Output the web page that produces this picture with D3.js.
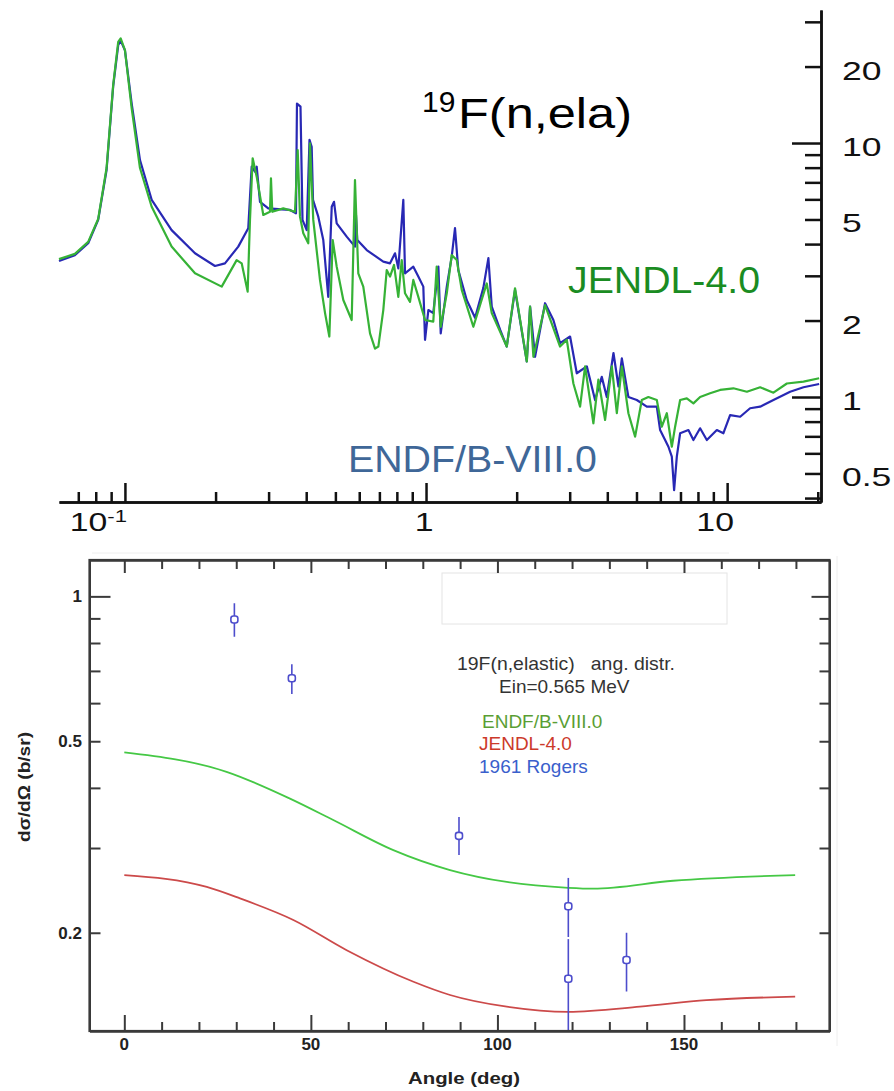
<!DOCTYPE html>
<html>
<head>
<meta charset="utf-8">
<script src="https://cdn.jsdelivr.net/npm/d3@7"></script>
<style>
  body { margin: 0; background: #fff; }
  svg { display: block; font-family: "Liberation Sans", Arial, Helvetica, sans-serif; }
  .pre { white-space: pre; }
</style>
</head>
<body>
<svg id="chart" width="894" height="1091"></svg>
<script>
// ---------- 19F elastic excitation function: [energy (MeV), cross section (b)] ----------
const endfExcitation = [
  [0.0604,3.43],[0.0682,3.62],[0.0755,4.03],[0.0815,4.98],[0.0869,7.83],[0.0914,16.7],[0.0950,24.3],[0.0968,25.3],
  [0.100,23.2],[0.1053,14.3],[0.1122,8.57],[0.1227,5.97],[0.1429,4.54],[0.1709,3.68],[0.1991,3.28],[0.2149,3.36],
  [0.2379,3.91],[0.2568,4.62],[0.2636,8.07],[0.2703,7.71],[0.2739,8.07],[0.2809,5.87],[0.2993,5.53],[0.3317,5.48],
  [0.3534,5.45],[0.3699,5.29],[0.3727,14.3],[0.3829,13.9],[0.3888,4.98],[0.4015,4.54],[0.4102,10.3],[0.4171,9.67],
  [0.4213,5.97],[0.4387,5.13],[0.4558,4.15],[0.4735,2.48],[0.4862,5.61],[0.4948,5.87],[0.505,4.83],[0.5452,4.28],
  [0.5808,3.91],[0.5853,5.21],[0.5912,4.15],[0.6353,3.79],[0.7212,3.41],[0.7593,3.36],[0.7889,3.68],[0.809,3.21],
  [0.8406,5.97],[0.8516,3.07],[0.9074,3.26],[0.9428,2.98],[0.9795,2.72],[0.9924,1.68],[1.018,2.20],[1.057,2.14],
  [1.099,3.26],[1.119,1.78],[1.172,2.72],[1.217,3.57],[1.248,4.62],[1.280,3.16],[1.365,2.41],[1.455,2.05],
  [1.550,2.69],[1.611,3.52],[1.653,2.27],[1.762,1.84],[1.854,1.58],[1.975,2.64],[2.161,1.38],[2.216,2.27],
  [2.302,1.44],[2.485,2.34],[2.648,2.01],[2.787,1.63],[3.009,1.73],[3.167,1.24],[3.420,1.32],[3.643,0.973],
  [3.834,1.20],[3.984,1.00],[4.193,1.49],[4.356,1.10],[4.470,1.42],[4.700,1.00],[5.012,0.973],[5.410,0.916],
  [5.840,0.916],[5.990,0.741],[6.223,0.677],[6.383,0.637],[6.551,0.582],[6.667,0.430],[6.806,0.582],[6.981,0.720],
  [7.437,0.741],[7.727,0.677],[8.133,0.753],[8.562,0.677],[9.243,0.741],[9.720,0.720],[10.23,0.849],[11.05,0.836],
  [11.92,0.903],[12.87,0.916],[14.25,0.973],[16.19,1.049],[17.93,1.092],[20.21,1.125]
];
const jendlExcitation = [
  [0.0604,3.49],[0.0682,3.66],[0.0755,4.08],[0.0815,5.02],[0.0869,7.97],[0.0914,16.9],[0.0950,25.0],[0.0968,25.8],
  [0.100,23.2],[0.1053,13.7],[0.1122,7.97],[0.1227,5.61],[0.1429,3.91],[0.1709,3.07],[0.2096,2.72],[0.2350,3.46],
  [0.2442,3.36],[0.2556,2.60],[0.2602,4.98],[0.2656,8.71],[0.2739,7.37],[0.2881,5.21],[0.3032,5.36],[0.3055,7.26],
  [0.3086,5.36],[0.3357,5.53],[0.3671,5.36],[0.3748,9.38],[0.3814,5.13],[0.3912,4.41],[0.4064,4.03],[0.4117,9.97],
  [0.4222,4.98],[0.4444,2.89],[0.4620,2.14],[0.4774,1.73],[0.4898,4.15],[0.505,3.26],[0.5312,2.41],[0.5664,2.01],
  [0.5808,7.15],[0.5957,3.07],[0.6189,2.72],[0.6516,1.78],[0.6770,1.55],[0.6944,1.58],[0.7212,2.20],[0.7404,3.16],
  [0.7593,2.98],[0.7829,3.31],[0.809,2.48],[0.8303,3.46],[0.8516,2.56],[0.8848,2.37],[0.9074,2.89],[0.9428,2.48],
  [0.9924,2.01],[1.057,1.98],[1.085,3.26],[1.119,1.89],[1.172,2.56],[1.217,3.62],[1.265,3.46],[1.314,2.64],
  [1.436,1.89],[1.591,2.80],[1.653,2.14],[1.854,1.58],[1.975,2.68],[2.161,1.38],[2.216,2.27],[2.273,1.44],
  [2.485,2.30],[2.787,1.58],[2.934,1.68],[3.086,1.13],[3.248,0.916],[3.375,1.32],[3.596,0.788],[3.736,1.17],
  [3.933,0.812],[4.141,1.32],[4.302,0.863],[4.470,1.32],[4.700,0.863],[4.948,0.698],[5.207,0.973],[5.476,1.00],
  [5.840,0.973],[6.068,0.764],[6.305,0.863],[6.551,0.637],[6.718,0.764],[6.981,0.973],[7.346,0.988],[7.727,0.944],
  [8.133,1.00],[8.780,1.034],[9.478,1.066],[10.49,1.082],[11.63,1.049],[12.87,1.092],[14.25,1.040],[15.79,1.13],
  [17.93,1.149],[20.21,1.185]
];
const energyMajorTicks = [0.1, 1, 10];
const energyMinorTicks = [0.07,0.08,0.09,0.2,0.3,0.4,0.5,0.6,0.7,0.8,0.9,2,3,4,5,6,7,8,9,20];
const xsMajorTicks = [1, 10];
const xsMinorTicks = [0.4,0.5,0.6,0.7,0.8,0.9,2,3,4,5,6,7,8,9,20,30];
const xsTickLabels = [20, 10, 5, 2, 1, 0.5];

// ---------- angular distribution at Ein = 0.565 MeV: [angle (deg), dσ/dΩ (b/sr)] ----------
const endfAngular = [
  [0,0.474],[27.4,0.432],[44.4,0.380],[56.0,0.343],[72.1,0.297],[87.3,0.270],[102.5,0.255],
  [119,0.248],[125.7,0.247],[147.1,0.2565],[179.8,0.2636]
];
const jendlAngular = [
  [0,0.2636],[22.1,0.249],[31,0.2357],[45.3,0.2126],[59.6,0.184],[77.5,0.1582],[87.3,0.1485],
  [102.5,0.1404],[119,0.137],[138.2,0.1404],[156,0.1449],[179.8,0.1473]
];
// 1961 Rogers: angle, value, lower and upper end of the error bar
const rogersAngle = [29.5, 44.9, 89.7, 119.0, 119.0, 134.6];
const rogersValue = [0.895, 0.676, 0.318, 0.227, 0.1605, 0.1755];
const rogersLow   = [0.824, 0.627, 0.290, 0.196, 0.105, 0.151];
const rogersHigh  = [0.967, 0.723, 0.348, 0.260, 0.194, 0.200];
const angleMajorTicks = [0, 50, 100, 150];
const angleMinorTicks = [10,20,30,40,60,70,80,90,110,120,130,140,160,170,180];
const angMajorY = [1];
const angMinorY = [0.2,0.3,0.4,0.5,0.6,0.7,0.8,0.9];
const angYLabels = [1, 0.5, 0.2];

const svg = d3.select("#chart");
svg.append("rect").attr("width", 894).attr("height", 1091).attr("fill", "#fff");

function styleAxis(g, color, width) {
  g.select("path.domain").attr("stroke", color).attr("stroke-width", width);
  g.selectAll(".tick line").attr("stroke", color).attr("stroke-width", width);
  g.selectAll(".tick text").remove();
}

// ================= upper panel =================
const xE = d3.scaleLog().domain([0.0604, 20.5]).range([59, 821]);
const yXS = d3.scaleLog().domain([0.386, 33.4]).range([502, 10]);
const upper = svg.append("g");

const lineE = d3.line().x(d => xE(d[0])).y(d => yXS(d[1]));
upper.append("path").datum(endfExcitation).attr("d", lineE)
  .attr("fill", "none").attr("stroke", "#2828b4").attr("stroke-width", 2.2).attr("stroke-linejoin", "round");
upper.append("path").datum(jendlExcitation).attr("d", lineE)
  .attr("fill", "none").attr("stroke", "#36b236").attr("stroke-width", 2.2).attr("stroke-linejoin", "round");

upper.append("g").attr("transform", "translate(0,502)")
  .call(d3.axisBottom(xE).tickValues(energyMinorTicks).tickSize(-10).tickSizeOuter(0).tickFormat(() => ""))
  .call(styleAxis, "#111", 2.5);
upper.append("g").attr("transform", "translate(0,502)")
  .call(d3.axisBottom(xE).tickValues(energyMajorTicks).tickSize(-19).tickSizeOuter(0).tickFormat(() => ""))
  .call(styleAxis, "#111", 2.5);
upper.append("g").attr("transform", "translate(821,0)")
  .call(d3.axisLeft(yXS).tickValues(xsMinorTicks).tickSize(16).tickSizeOuter(0).tickFormat(() => ""))
  .call(styleAxis, "#111", 2.5);
upper.append("g").attr("transform", "translate(821,0)")
  .call(d3.axisLeft(yXS).tickValues(xsMajorTicks).tickSize(29).tickSizeOuter(0).tickFormat(() => ""))
  .call(styleAxis, "#111", 2.5);

// right-hand tick labels
upper.selectAll("text.ylab").data(xsTickLabels).join("text")
  .attr("class", "ylab")
  .attr("transform", d => `translate(842,${yXS(d) + 13}) scale(1.42,1)`)
  .attr("font-size", 25).attr("fill", "#111")
  .text(d => String(d));

// bottom tick labels
const eLab = upper.append("g").attr("font-size", 26).attr("fill", "#111");
eLab.append("text")
  .attr("transform", `translate(${xE(0.1) + 2},531) scale(1.3,1)`)
  .attr("text-anchor", "end")
  .call(t => {
    t.append("tspan").text("10");
    t.append("tspan").attr("font-size", 17).attr("dy", -9).text("-1");
  });
eLab.append("text")
  .attr("transform", `translate(${xE(1) - 2},531) scale(1.3,1)`)
  .attr("text-anchor", "middle").text("1");
eLab.append("text")
  .attr("transform", `translate(${xE(10) - 12},531) scale(1.3,1)`)
  .attr("text-anchor", "middle").text("10");

// reaction title
const ttl = upper.append("text").attr("fill", "#000");
ttl.append("tspan").attr("x", 422).attr("y", 112).attr("font-size", 30).text("19");
ttl.append("tspan").attr("x", 458).attr("y", 128).attr("font-size", 43)
  .attr("textLength", 174).attr("lengthAdjust", "spacingAndGlyphs").text("F(n,ela)");

upper.append("text").attr("x", 568).attr("y", 293).attr("font-size", 37).attr("fill", "#1a8c22")
  .attr("textLength", 192).attr("lengthAdjust", "spacingAndGlyphs").text("JENDL-4.0");
upper.append("text").attr("x", 348).attr("y", 472).attr("font-size", 37).attr("fill", "#3f6798")
  .attr("textLength", 249).attr("lengthAdjust", "spacingAndGlyphs").text("ENDF/B-VIII.0");

// ================= lower panel =================
const xA = d3.scaleLinear().domain([-9.33, 189]).range([89.5, 829.5]);
const yA = d3.scaleLog().domain([0.125, 1.19]).range([1031, 560]);
const lower = svg.append("g");

// faint border of the pasted panel and the blank box
lower.append("path").attr("d", "M92,553H729M837,556V1046")
  .attr("stroke", "#eeeeee").attr("stroke-width", 1).attr("fill", "none");

lower.append("defs").append("clipPath").attr("id", "plotClip")
  .append("rect").attr("x", 89.5).attr("y", 560).attr("width", 740).attr("height", 471);

const lineA = d3.line().x(d => xA(d[0])).y(d => yA(d[1])).curve(d3.curveMonotoneX);
const plot = lower.append("g").attr("clip-path", "url(#plotClip)");
plot.append("path").datum(endfAngular).attr("d", lineA)
  .attr("fill", "none").attr("stroke", "#45c845").attr("stroke-width", 1.8);
plot.append("path").datum(jendlAngular).attr("d", lineA)
  .attr("fill", "none").attr("stroke", "#cc4a4a").attr("stroke-width", 1.8);

const rogers = rogersAngle.map((a, i) => ({a, v: rogersValue[i], lo: rogersLow[i], hi: rogersHigh[i]}));
plot.selectAll("line.err").data(rogers).join("line")
  .attr("class", "err")
  .attr("x1", d => xA(d.a)).attr("x2", d => xA(d.a))
  .attr("y1", d => yA(d.hi)).attr("y2", d => yA(d.lo))
  .attr("stroke", "#4d4dcc").attr("stroke-width", 1.6);
plot.selectAll("rect.pt").data(rogers).join("rect")
  .attr("class", "pt")
  .attr("x", d => xA(d.a) - 3.5).attr("y", d => yA(d.v) - 3.5)
  .attr("width", 7).attr("height", 7).attr("rx", 2.5)
  .attr("fill", "#fff").attr("stroke", "#4d4dcc").attr("stroke-width", 1.6);

// blank box
lower.append("rect").attr("x", 442).attr("y", 573).attr("width", 285).attr("height", 51)
  .attr("fill", "#fff").attr("stroke", "#e4e4e4").attr("stroke-width", 1);

// axes (ticks point inward on all four sides)
const frameCol = "#3a3a3a";
lower.append("g").attr("transform", "translate(0,1031)")
  .call(d3.axisBottom(xA).tickValues(angleMinorTicks).tickSize(-9).tickSizeOuter(0).tickFormat(() => ""))
  .call(styleAxis, frameCol, 2);
lower.append("g").attr("transform", "translate(0,1031)")
  .call(d3.axisBottom(xA).tickValues(angleMajorTicks).tickSize(-16).tickSizeOuter(0).tickFormat(() => ""))
  .call(styleAxis, frameCol, 2);
lower.append("g").attr("transform", "translate(0,560)")
  .call(d3.axisTop(xA).tickValues(angleMinorTicks).tickSize(-9).tickSizeOuter(0).tickFormat(() => ""))
  .call(styleAxis, frameCol, 2);
lower.append("g").attr("transform", "translate(0,560)")
  .call(d3.axisTop(xA).tickValues(angleMajorTicks).tickSize(-13).tickSizeOuter(0).tickFormat(() => ""))
  .call(styleAxis, frameCol, 2);
lower.append("g").attr("transform", "translate(89.5,0)")
  .call(d3.axisLeft(yA).tickValues(angMinorY).tickSize(-11).tickSizeOuter(0).tickFormat(() => ""))
  .call(styleAxis, frameCol, 2);
lower.append("g").attr("transform", "translate(89.5,0)")
  .call(d3.axisLeft(yA).tickValues(angMajorY).tickSize(-21).tickSizeOuter(0).tickFormat(() => ""))
  .call(styleAxis, frameCol, 2);
lower.append("g").attr("transform", "translate(829.5,0)")
  .call(d3.axisRight(yA).tickValues(angMinorY).tickSize(-10).tickSizeOuter(0).tickFormat(() => ""))
  .call(styleAxis, frameCol, 2);
lower.append("g").attr("transform", "translate(829.5,0)")
  .call(d3.axisRight(yA).tickValues(angMajorY).tickSize(-18).tickSizeOuter(0).tickFormat(() => ""))
  .call(styleAxis, frameCol, 2);

lower.append("rect").attr("x", 89.5).attr("y", 560).attr("width", 740).attr("height", 471)
  .attr("fill", "none").attr("stroke", frameCol).attr("stroke-width", 2.2);

// tick labels
lower.selectAll("text.xl").data(angleMajorTicks).join("text")
  .attr("class", "xl").attr("x", d => xA(d)).attr("y", 1050)
  .attr("text-anchor", "middle").attr("font-size", 17).attr("font-weight", "bold").attr("fill", "#222")
  .text(d => d);
lower.selectAll("text.yl").data(angYLabels).join("text")
  .attr("class", "yl").attr("x", 82).attr("y", d => yA(d) + 6)
  .attr("text-anchor", "end").attr("font-size", 17).attr("font-weight", "bold").attr("fill", "#222")
  .text(d => d);

// axis titles
lower.append("text").attr("x", 464).attr("y", 1084).attr("text-anchor", "middle")
  .attr("font-size", 17).attr("font-weight", "bold").attr("fill", "#222")
  .attr("textLength", 112).attr("lengthAdjust", "spacingAndGlyphs").text("Angle (deg)");
lower.append("text").attr("transform", "translate(30,787) rotate(-90)").attr("text-anchor", "middle")
  .attr("font-size", 17).attr("font-weight", "bold").attr("fill", "#222")
  .attr("textLength", 110).attr("lengthAdjust", "spacingAndGlyphs").text("dσ/dΩ (b/sr)");

// annotation and legend
lower.append("text").attr("class", "pre").attr("x", 457).attr("y", 670).attr("font-size", 19).attr("fill", "#333")
  .attr("textLength", 218).attr("lengthAdjust", "spacingAndGlyphs").text("19F(n,elastic)   ang. distr.");
lower.append("text").attr("x", 499).attr("y", 693).attr("font-size", 19).attr("fill", "#333")
  .text("Ein=0.565 MeV");
lower.append("text").attr("x", 482).attr("y", 728).attr("font-size", 19).attr("fill", "#5a9e34")
  .text("ENDF/B-VIII.0");
lower.append("text").attr("x", 479).attr("y", 750).attr("font-size", 19).attr("fill", "#cc3a2a")
  .text("JENDL-4.0");
lower.append("text").attr("x", 479).attr("y", 773).attr("font-size", 19).attr("fill", "#3a5fcc")
  .text("1961 Rogers");
</script>
</body>
</html>
